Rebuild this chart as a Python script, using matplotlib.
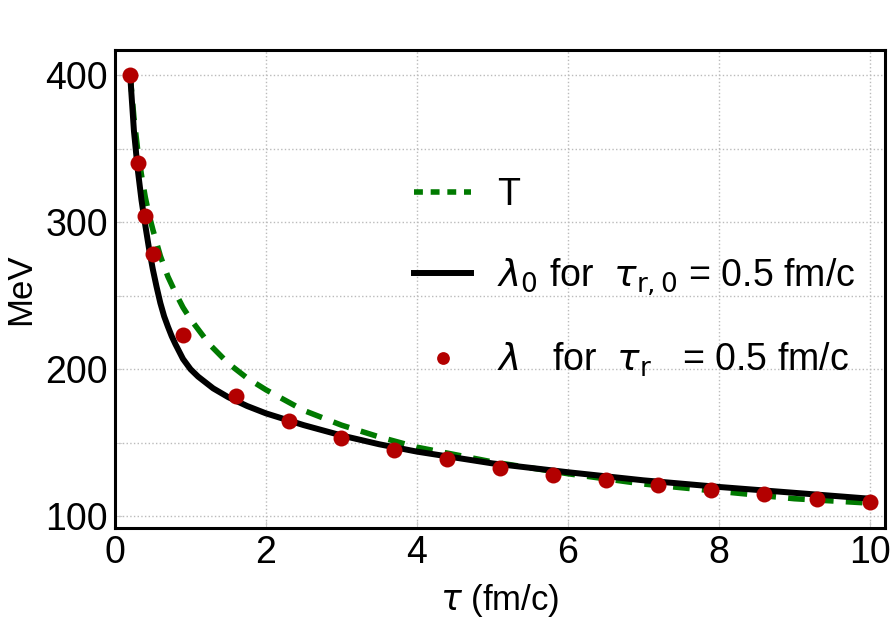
import numpy as np
import matplotlib
matplotlib.use("Agg")
import matplotlib.pyplot as plt
from matplotlib.ticker import MultipleLocator

plt.rcParams['font.family'] = ['Liberation Sans', 'DejaVu Sans']
plt.rcParams['mathtext.fontset'] = 'dejavusans'

# temperature T
tau_T = [0.2, 0.25, 0.3, 0.35, 0.4, 0.45, 0.5, 0.6, 0.7, 0.8, 0.9, 1.0, 1.25,
         1.5, 1.75, 2.0, 2.5, 3.0, 3.5, 4.0, 5.0, 6.0, 7.0, 8.0, 9.0, 10.0]
T_vals = [400, 371, 349, 332, 317, 305, 295, 277, 263, 252, 242, 234, 217,
          204, 194, 186, 172, 162, 154, 147, 137, 129, 122, 117, 112, 109]

# lambda_0 (solid curve)
tau_l0 = [0.2, 0.25, 0.3, 0.35, 0.4, 0.45, 0.5, 0.55, 0.6, 0.65, 0.7, 0.75,
          0.8, 0.85, 0.9, 1.0, 1.1, 1.2, 1.3, 1.5, 1.75, 2.0, 2.25, 2.5, 3.0,
          3.5, 4.0, 5.0, 6.0, 7.0, 8.0, 9.0, 10.0]
l0_vals = [400, 362, 336, 315, 298, 282, 268, 256, 245, 236, 229, 222.5,
           217, 212, 207, 200, 195, 191, 187, 181, 175, 170, 166, 162, 155,
           149, 144, 136, 130, 124.5, 120, 116, 112]

# lambda (dots)
tau_l = [0.2, 0.3, 0.4, 0.5, 0.9, 1.6, 2.3, 3.0, 3.7, 4.4, 5.1, 5.8, 6.5,
         7.2, 7.9, 8.6, 9.3, 10.0]
l_vals = [400, 340, 304, 278, 223, 182, 165, 153, 145, 139, 133, 128, 124.5,
          121, 118, 115, 112, 109.5]

fig = plt.figure(figsize=(8.92, 6.25), dpi=100)
ax = fig.add_axes([0.129, 0.155, 0.863, 0.765])

hT, = ax.plot(tau_T, T_vals, color='#007a00', lw=4.0, dashes=(3.0, 2.2),
              label='T', zorder=2)
hl0, = ax.plot(tau_l0, l0_vals, color='black', lw=4.3, solid_joinstyle='round',
               label=r'$\lambda_0$ for  $\tau_{\rm r,0}$ = 0.5 fm/c', zorder=3)
hl, = ax.plot(tau_l, l_vals, 'o', color='#b30000', ms=11.5, mec='none',
              label=r'$\lambda$   for  $\tau_{\rm r}$   = 0.5 fm/c', zorder=4)

ax.set_xlim(0, 10.2)
ax.set_ylim(92, 417)
ax.xaxis.set_major_locator(MultipleLocator(2))
ax.yaxis.set_major_locator(MultipleLocator(100))
ax.yaxis.set_minor_locator(MultipleLocator(50))
ax.grid(True, which='both', color='#bbbbbb', ls=':', lw=1.0)

for sp in ax.spines.values():
    sp.set_linewidth(2.2)
ax.tick_params(which='both', direction='in', color='#cccccc', length=5,
               labelsize=27, pad=5)

ax.set_xlabel(r'$\tau$ (fm/c)', fontsize=25, labelpad=8)
ax.set_ylabel('MeV', fontsize=25, labelpad=6)

leg = ax.legend(handles=[hT, hl0, hl], loc='upper left',
                bbox_to_anchor=(0.345, 0.805), frameon=False, fontsize=27,
                labelspacing=1.15, handlelength=1.5, handletextpad=0.7,
                markerscale=0.8)
# shorter dashes in the legend handle, as in the original
leg.get_lines()[0].set_dashes((1.6, 1.4))

fig.savefig('out.png', dpi=100)
